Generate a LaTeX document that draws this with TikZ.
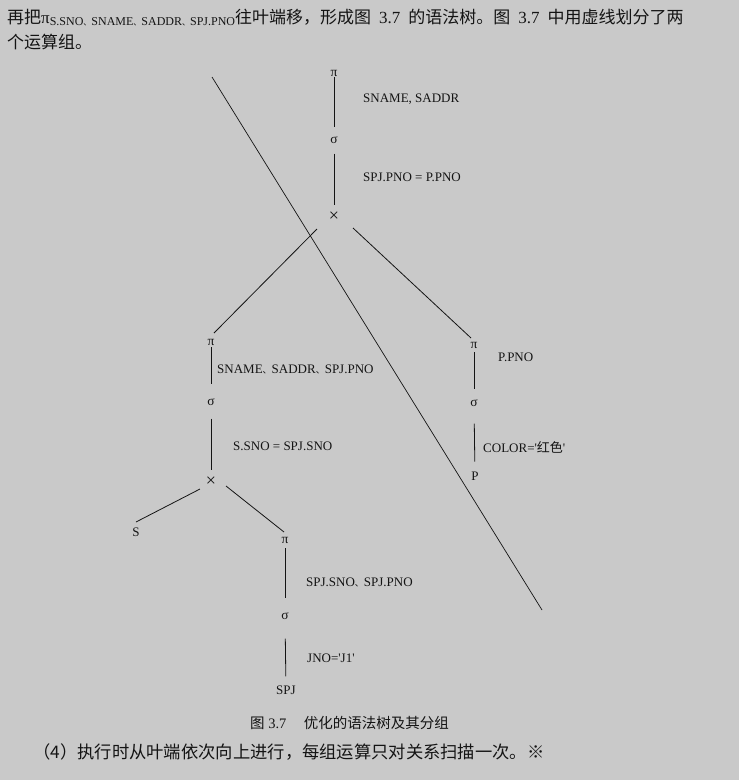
\documentclass[tikz,border=0pt]{standalone}
\usepackage{fontspec}
\setmainfont{Liberation Serif}
\newfontfamily\cjk{Noto Sans CJK SC}
\usetikzlibrary{calc}
\definecolor{bg}{RGB}{201,201,201}
\definecolor{ink}{RGB}{20,20,20}
\newcommand{\dunhao}[1]{{\cjk\fontsize{#1}{#1}\selectfont 、}}
\newcommand{\sq}{\textquotesingle}
\begin{document}
\begin{tikzpicture}[x=1pt,y=-1pt,
  op/.style={inner sep=0pt, font=\fontsize{13.5}{13.5}\selectfont, text=ink},
  cross/.style={inner sep=0pt, font=\fontsize{18}{18}\selectfont, text=ink},
  rel/.style={inner sep=0pt, font=\fontsize{13}{13}\selectfont, text=ink},
  lab/.style={inner sep=0pt, anchor=west, font=\fontsize{13}{13}\selectfont, text=ink},
  edge/.style={draw=ink, line width=0.8pt},
  body/.style={inner sep=0pt, anchor=base west, font=\fontsize{17}{20}\selectfont, text=ink},
]
\path[fill=bg, use as bounding box] (0,0) rectangle (739,780);

% paragraph text
\node[body] (line1) at (7,23) {{\cjk 再把}π\raisebox{-2.5pt}{\fontsize{12}{12}\selectfont S.SNO\dunhao{8}SNAME\dunhao{8}SADDR\dunhao{8}SPJ.PNO}{\cjk 往叶端移，形成图}\hspace{8pt}3.7\hspace{8pt}{\cjk 的语法树。图}\hspace{8pt}3.7\hspace{8pt}{\cjk 中用虚线划分了两}};
\node[body] (line2) at (7,48) {\cjk 个运算组。};

% tree nodes
\node[op] (pA) at (334,73) {π};
\node[op] (sA) at (334,140) {σ};
\node[cross] (xA) at (334,217) {×};
\node[op] (pB) at (211,342) {π};
\node[op] (sB) at (211,402) {σ};
\node[cross] (xB) at (211,482) {×};
\node[rel] (S) at (136,532) {S};
\node[op] (pC) at (285,540) {π};
\node[op] (sC) at (285,616) {σ};
\node[rel] (SPJ) at (286,690) {SPJ};
\node[op] (pD) at (474,345) {π};
\node[op] (sD) at (474,403) {σ};
\node[rel] (P) at (475,476) {P};

% labels
\node[lab] (l1) at (363,99) {SNAME, SADDR};
\node[lab] (l2) at (363,177) {SPJ.PNO = P.PNO};
\node[lab] (l3) at (217,369) {SNAME\dunhao{9}SADDR\dunhao{9}SPJ.PNO};
\node[lab] (l4) at (233,446) {S.SNO = SPJ.SNO};
\node[lab] (l5) at (306,582) {SPJ.SNO\dunhao{9}SPJ.PNO};
\node[lab] (l6) at (307,658) {JNO=\sq J1\sq};
\node[lab] (l7) at (498,357) {P.PNO};
\node[lab] (l8) at (483,447) {COLOR=\sq{\cjk 红色}\sq};

% vertical connectors
\draw[edge, shorten <=1pt, shorten >=9pt] (pA) -- (sA);
\draw[edge, shorten <=10pt, shorten >=7pt] (sA) -- (xA);
\draw[edge, shorten <=2pt, shorten >=14pt] (pB) -- (sB);
\draw[edge, shorten <=13pt, shorten >=7pt] (sB) -- (xB);
\draw[edge, shorten <=5pt, shorten >=14pt] (pC) -- (sC);
\draw[edge, shorten <=19pt, shorten >=9pt] (sC) -- (SPJ);
\draw[edge, shorten <=4pt, shorten >=10pt] (pD) -- (sD);
\draw[edge, shorten <=17pt, shorten >=10pt] (sD) -- (P);

% slanted connectors
\draw[edge] ($(xA)+(-17,12)$) -- ($(pB)+(3,-9)$);
\draw[edge] ($(xA)+(19,11)$) -- ($(pD)+(-3,-7)$);
\draw[edge] ($(xB)+(-11,7)$) -- ($(S)+(0,-10)$);
\draw[edge] ($(xB)+(15,4)$) -- ($(pC)+(-1,-8)$);

% dividing line
\coordinate (d1) at (212,77);
\coordinate (d2) at (542,610);
\draw[edge, line width=0.7pt] (d1) -- (d2);

% caption and footer
\node[inner sep=0pt, anchor=base west, font=\fontsize{14.5}{14.5}\selectfont, text=ink] (cap) at (250,728) {{\cjk 图} 3.7\hspace{1.2em}{\cjk 优化的语法树及其分组}};
\node[body, font=\fontsize{17.3}{20}\selectfont] (foot) at (33,758) {\cjk （4）执行时从叶端依次向上进行，每组运算只对关系扫描一次。※};
\end{tikzpicture}
\end{document}
